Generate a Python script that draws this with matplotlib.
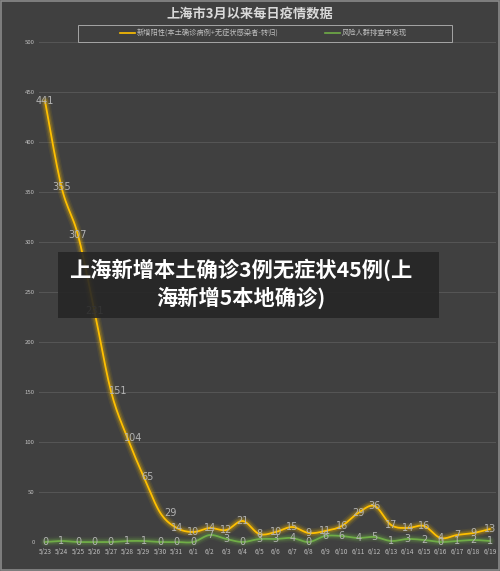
import numpy as np
import matplotlib
matplotlib.use("Agg")
import matplotlib.pyplot as plt
from matplotlib.patches import Rectangle

plt.rcParams['font.family'] = ['Noto Sans CJK SC', 'DejaVu Sans']

dates = ["5/23", "5/24", "5/25", "5/26", "5/27", "5/28", "5/29", "5/30", "5/31",
         "6/1", "6/2", "6/3", "6/4", "6/5", "6/6", "6/7", "6/8", "6/9", "6/10",
         "6/11", "6/12", "6/13", "6/14", "6/15", "6/16", "6/17", "6/18", "6/19"]
new_positive = [441, 355, 307, 231, 151, 104, 65, 29, 14, 10, 14, 12, 21, 8, 10, 15,
                9, 11, 16, 29, 36, 17, 14, 16, 4, 7, 9, 13]
risk_screening = [0, 1, 0, 0, 0, 1, 1, 0, 0, 0, 7, 3, 0, 3, 3, 4, 0, 6, 6, 4, 5, 1,
                  3, 2, 0, 1, 2, 1]
y_ticks = list(range(0, 501, 50))

title = "上海市3月以来每日疫情数据"
legend_labels = ["新增阳性(本土确诊病例+无症状感染者-转归)", "风险人群排查中发现"]
overlay_text = "上海新增本土确诊3例无症状45例(上\n海新增5本地确诊)"

BG = "#404040"
YELLOW = "#FFC000"
GREEN = "#70AD47"
LABEL = "#b3b3b3"

# horizontal label nudges (in points) for the steep part of the yellow curve
yellow_label_dx = {4: 5, 5: 4, 6: 3, 7: 7}


def smooth(xs, ys, xscale=16.5, n=12):
    # Catmull-Rom smoothing for rendering (Excel-style smoothed line)
    P = np.column_stack([np.asarray(xs, float) * xscale, np.asarray(ys, float)])
    P = np.vstack([P[0], P, P[-1]])
    out = []
    t = np.linspace(0, 1, n, endpoint=False)[:, None]
    for i in range(1, len(P) - 2):
        p0, p1, p2, p3 = P[i - 1], P[i], P[i + 1], P[i + 2]
        seg = 0.5 * ((2 * p1) + (-p0 + p2) * t + (2 * p0 - 5 * p1 + 4 * p2 - p3) * t ** 2
                     + (-p0 + 3 * p1 - 3 * p2 + p3) * t ** 3)
        out.append(seg)
    out.append(P[-2][None, :])
    S = np.vstack(out)
    return S[:, 0] / xscale, S[:, 1]


fig = plt.figure(figsize=(5.0, 5.71), dpi=100, facecolor=BG)
ax = fig.add_axes([39 / 500, 29 / 571, (496 - 39) / 500, 500 / 571])
ax.set_facecolor(BG)

x = np.arange(len(dates))
ax.set_xlim(-0.364, 27.364)
ax.set_ylim(0, 500)
ax.set_yticks(y_ticks)
ax.set_yticklabels([str(v) for v in y_ticks], fontsize=4.3, color="#bfbfbf")
ax.set_xticks(x)
ax.set_xticklabels(dates, fontsize=4.6, color="#bfbfbf")
ax.tick_params(axis="both", length=0)
ax.tick_params(axis="y", pad=3)
ax.tick_params(axis="x", pad=4.5)
for s in ax.spines.values():
    s.set_visible(False)
ax.grid(axis="y", color="#565656", linewidth=0.7)
ax.set_axisbelow(True)

for vals, col in [(new_positive, YELLOW), (risk_screening, GREEN)]:
    sx, sy = smooth(x, vals)
    for w, a in [(7, 0.08), (5, 0.12), (3.5, 0.18)]:
        ax.plot(sx, sy, color=col, lw=w, alpha=a, solid_capstyle="round", clip_on=False, zorder=3)
    ax.plot(sx, sy, color=col, lw=1.3, solid_capstyle="round", clip_on=False, zorder=4)

for k, (xi, v) in enumerate(zip(x, new_positive)):
    ax.annotate(str(v), (xi, v), xytext=(yellow_label_dx.get(k, 0), 0),
                textcoords="offset points", ha="center", va="center", fontsize=7,
                color=LABEL, zorder=6, family=["DejaVu Sans"])
for xi, v in zip(x, risk_screening):
    ax.text(xi, v, str(v), ha="center", va="center", fontsize=7, color=LABEL,
            zorder=6, family=["DejaVu Sans"])

# title
fig.text(0.5, 1 - 14 / 571, title, ha="center", va="center", fontsize=9.5,
         fontweight="bold", color="#d9d9d9")

# legend box
fig.patches.append(Rectangle((78 / 500, 1 - 42 / 571), (452 - 78) / 500, 17 / 571,
                             transform=fig.transFigure, facecolor="none",
                             edgecolor="#a6a6a6", lw=0.7))
ly = 1 - 33 / 571
fig.lines.append(plt.Line2D([120 / 500, 135 / 500], [ly, ly], transform=fig.transFigure,
                            color=YELLOW, lw=1.2))
fig.text(137 / 500, ly, legend_labels[0], ha="left", va="center", fontsize=5.2, color="#bfbfbf")
fig.lines.append(plt.Line2D([325 / 500, 340 / 500], [ly, ly], transform=fig.transFigure,
                            color=GREEN, lw=1.2))
fig.text(342 / 500, ly, legend_labels[1], ha="left", va="center", fontsize=5.2, color="#bfbfbf")

# overlay banner
fig.patches.append(Rectangle((58 / 500, 1 - 318 / 571), (439 - 58) / 500, 66 / 571,
                             transform=fig.transFigure, facecolor="#262626",
                             edgecolor="none", alpha=0.9, zorder=10))
fig.text(241 / 500, 1 - 284 / 571, overlay_text, ha="center", va="center", fontsize=15.3,
         fontweight="heavy", color="white", linespacing=1.3, zorder=11)

# outer frame
fig.patches.append(Rectangle((0.001, 0.002), 0.997, 0.996, transform=fig.transFigure,
                             facecolor="none", edgecolor="#8a8a8a", lw=1.2))

fig.savefig("out.png", dpi=100, facecolor=BG)
